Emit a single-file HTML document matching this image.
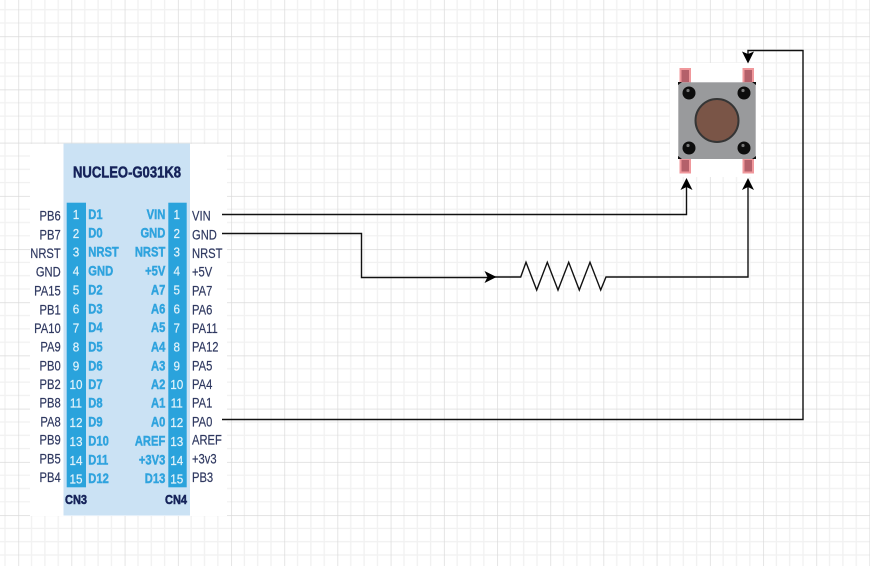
<!DOCTYPE html>
<html><head><meta charset="utf-8"><style>
html,body{margin:0;padding:0;background:#fff}
svg{display:block}
text{font-family:"Liberation Sans",sans-serif}
.n text{font-size:14px;fill:#2f3860;stroke:#2f3860;stroke-width:.2px}
.d text{font-size:14px;fill:#2fa3de;stroke:#2fa3de;stroke-width:.45px;font-weight:bold}
.p text{font-size:13px;fill:#e2f3fb;stroke:#e2f3fb;stroke-width:.2px;text-anchor:middle}
.t{fill:#14245a;stroke:#14245a;stroke-width:.5px;font-weight:bold}
</style></head><body>
<svg width="870" height="566" viewBox="0 0 870 566" xmlns="http://www.w3.org/2000/svg">
<defs>
<pattern id="g" patternUnits="userSpaceOnUse" x="18.3" y="36.3" width="53.2" height="53.2">
<path d="M13.3 0V53.2M26.6 0V53.2M39.9 0V53.2M0 13.3H53.2M0 26.6H53.2M0 39.9H53.2" stroke="#f1f1f1" stroke-width="1.3" fill="none"/>
<path d="M0 0V53.2M0 0H53.2" stroke="#dadada" stroke-width="1.4" fill="none"/>
</pattern>
<filter id="b" x="-5%" y="-5%" width="110%" height="110%"><feGaussianBlur stdDeviation="0.3"/></filter>
</defs>
<rect width="870" height="566" fill="#fff"/>
<rect width="870" height="566" fill="url(#g)"/>
<rect x="30" y="144" width="197" height="372" fill="#fff"/>
<rect x="670" y="63" width="91" height="114" fill="#fff"/>
<g filter="url(#b)">
<rect x="63.5" y="143.5" width="126.5" height="372" fill="#cbe2f4"/>
<rect x="66.7" y="202.7" width="19.3" height="284.6" fill="#2aa3dc"/>
<rect x="168.3" y="202.7" width="18.4" height="284.6" fill="#2aa3dc"/>
<text class="t" x="73" y="177.5" font-size="16" textLength="108" lengthAdjust="spacingAndGlyphs">NUCLEO-G031K8</text>
<text class="t" x="65" y="504" font-size="12.5" textLength="22" lengthAdjust="spacingAndGlyphs">CN3</text>
<text class="t" x="165" y="504" font-size="12.5" textLength="22" lengthAdjust="spacingAndGlyphs">CN4</text>
<g class="n" transform="translate(60.7 0) scale(.8 1)" text-anchor="end">
<text y="220.5">PB6</text><text y="239.5">PB7</text><text y="258">NRST</text><text y="276.5">GND</text><text y="295.5">PA15</text><text y="314.5">PB1</text><text y="333">PA10</text><text y="351.5">PA9</text><text y="370.5">PB0</text><text y="389">PB2</text><text y="407.5">PB8</text><text y="426.5">PA8</text><text y="444.5">PB9</text><text y="463.5">PB5</text><text y="482">PB4</text>
</g>
<g class="n" transform="translate(192 0) scale(.8 1)">
<text y="220.5">VIN</text><text y="239.5">GND</text><text y="258">NRST</text><text y="276.5">+5V</text><text y="295.5">PA7</text><text y="314.5">PA6</text><text y="333">PA11</text><text y="351.5">PA12</text><text y="370.5">PA5</text><text y="389">PA4</text><text y="407.5">PA1</text><text y="426.5">PA0</text><text y="444.5">AREF</text><text y="463.5">+3v3</text><text y="482">PB3</text>
</g>
<g class="d" transform="translate(88.3 0) scale(.8 1)">
<text y="219">D1</text><text y="237.5">D0</text><text y="256.5">NRST</text><text y="275.5">GND</text><text y="294.5">D2</text><text y="313.5">D3</text><text y="332">D4</text><text y="351.5">D5</text><text y="370.5">D6</text><text y="389">D7</text><text y="407.5">D8</text><text y="426.5">D9</text><text y="445.5">D10</text><text y="464.5">D11</text><text y="483">D12</text>
</g>
<g class="d" transform="translate(165.3 0) scale(.8 1)" text-anchor="end">
<text y="219">VIN</text><text y="237.5">GND</text><text y="256.5">NRST</text><text y="275.5">+5V</text><text y="294.5">A7</text><text y="313.5">A6</text><text y="332">A5</text><text y="351.5">A4</text><text y="370.5">A3</text><text y="389">A2</text><text y="407.5">A1</text><text y="426.5">A0</text><text y="445.5">AREF</text><text y="464.5">+3V3</text><text y="483">D13</text>
</g>
<g class="p" transform="translate(76 0) scale(.9 1)">
<text y="219">1</text><text y="238">2</text><text y="256.5">3</text><text y="275.5">4</text><text y="294.5">5</text><text y="313.5">6</text><text y="332.5">7</text><text y="351.5">8</text><text y="370.5">9</text><text y="389">10</text><text y="407.5">11</text><text y="427">12</text><text y="446">13</text><text y="465">14</text><text y="483.5">15</text>
</g>
<g class="p" transform="translate(176.7 0) scale(.9 1)">
<text y="219">1</text><text y="238">2</text><text y="256.5">3</text><text y="275.5">4</text><text y="294.5">5</text><text y="313.5">6</text><text y="332.5">7</text><text y="351.5">8</text><text y="370.5">9</text><text y="389">10</text><text y="407.5">11</text><text y="427">12</text><text y="446">13</text><text y="465">14</text><text y="483.5">15</text>
</g>
<!-- push button -->
<g fill="#b4616a" stroke="#f0989c" stroke-width="2">
<rect x="680.5" y="69" width="9.5" height="14"/><rect x="743.5" y="69" width="9.5" height="14"/>
<rect x="680.5" y="159" width="9.5" height="13.5"/><rect x="743.5" y="159" width="9.5" height="13.5"/>
</g>
<rect x="678.3" y="82.3" width="77.4" height="76.7" fill="#999a9c"/>
<g fill="#111"><path d="M678 82h4l-4 3zM756 82h-4l4 3zM678 159h4l-4-3zM756 159h-4l4-3z"/></g>
<g fill="#0c0c0c"><circle cx="689" cy="93" r="6.5"/><circle cx="744" cy="93" r="6.5"/><circle cx="689" cy="148" r="6.5"/><circle cx="744" cy="148" r="6.5"/></g>
<g fill="#777"><circle cx="688" cy="90.5" r="1.6"/><circle cx="743" cy="90.5" r="1.6"/><circle cx="688" cy="145.5" r="1.6"/><circle cx="743" cy="145.5" r="1.6"/></g>
<circle cx="717" cy="120.5" r="21.5" fill="#7a5547" stroke="#363636" stroke-width="2"/>
</g>
<!-- connectors -->
<g fill="none" stroke="#111" stroke-width="1.4">
<path d="M222 214.5H686.5V185"/>
<path d="M222 233.5H361.5V277.5H490"/>
<path d="M490 277H520.7L526 262.3L536.7 290L547.3 262.3L558 290L568.7 262.3L579.3 290L590 262.3L600.7 290L606 277H748V185"/>
<path d="M222 419.5H803V50.5H748V56"/>
</g>
<g fill="#000">
<path d="M686.5 178L692.5 190L686.5 187L680.5 190Z"/>
<path d="M748 178L754 190L748 187L742 190Z"/>
<path d="M496.5 277L484.5 271L487.5 277L484.5 283Z"/>
<path d="M748 63.5L742 51.5L748 54L754 51.5Z"/>
</g>
</svg>
</body></html>
